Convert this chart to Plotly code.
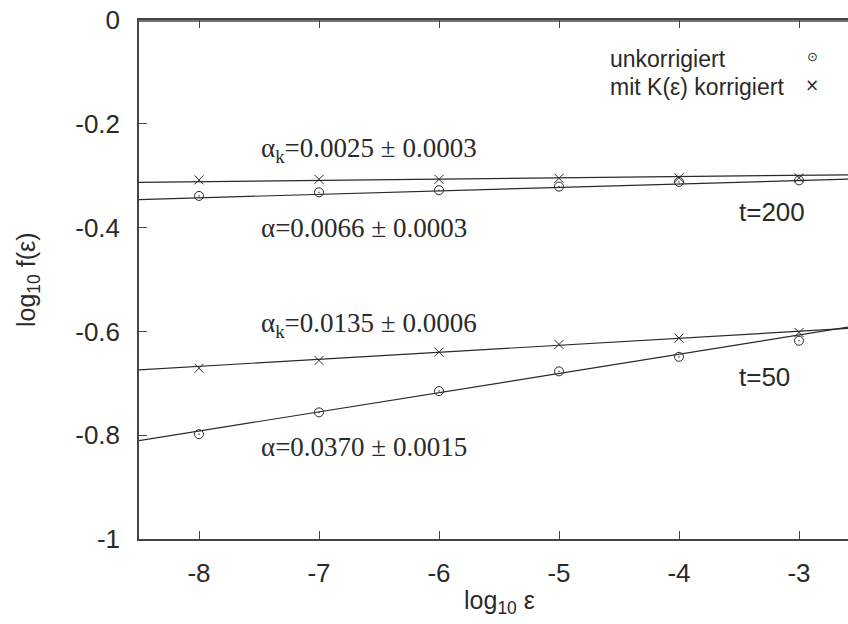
import plotly.graph_objects as go

# ---- data ----
log_eps = [-8, -7, -6, -5, -4, -3]
t200_unkorrigiert = [-0.339, -0.332, -0.328, -0.321, -0.312, -0.309]
t200_korrigiert = [-0.308, -0.307, -0.307, -0.305, -0.304, -0.304]
t50_unkorrigiert = [-0.798, -0.756, -0.715, -0.677, -0.649, -0.618]
t50_korrigiert = [-0.671, -0.656, -0.640, -0.625, -0.613, -0.602]

fit_x = [-8.5, -2.5]
fit_t200_unk = [-0.346, -0.306]
fit_t200_kor = [-0.313, -0.298]
fit_t50_unk = [-0.8105, -0.5885]
fit_t50_kor = [-0.674, -0.593]

x_ticks = [-8, -7, -6, -5, -4, -3]
x_ticktext = ["-8", "-7", "-6", "-5", "-4", "-3"]
y_ticks = [-1, -0.8, -0.6, -0.4, -0.2, 0]
y_ticktext = ["-1", "-0.8", "-0.6", "-0.4", "-0.2", "0"]

ink = "#2a2a2a"
axis_col = "#444"
sans = "Liberation Sans, Arial, sans-serif"
serif = "Liberation Serif, Times New Roman, serif"

FW, FH = 848, 624
L, T, W, H = 139, 20, 709, 519


def px(xs):
    return (xs - L) / W


def py(ys):
    return (T + H - ys) / H


fig = go.Figure()

for fy in [fit_t200_kor, fit_t200_unk, fit_t50_kor, fit_t50_unk]:
    fig.add_trace(go.Scatter(x=fit_x, y=fy, mode="lines",
                             line=dict(color=ink, width=1.2), showlegend=False,
                             hoverinfo="skip"))

for ys in [t200_unkorrigiert, t50_unkorrigiert]:
    fig.add_trace(go.Scatter(x=log_eps, y=ys, mode="markers",
                             marker=dict(symbol="circle-open-dot", size=9, color=ink,
                                         line=dict(width=1, color=ink)),
                             showlegend=False))
for ys in [t200_korrigiert, t50_korrigiert]:
    fig.add_trace(go.Scatter(x=log_eps, y=ys, mode="markers",
                             marker=dict(symbol="x-thin", size=9, color=ink,
                                         line=dict(width=1, color=ink)),
                             showlegend=False))

annotations = [
    dict(x=-7.5, y=-0.25, text="α<sub>k</sub>=0.0025 ± 0.0003"),
    dict(x=-7.5, y=-0.401, text="α=0.0066 ± 0.0003"),
    dict(x=-7.5, y=-0.588, text="α<sub>k</sub>=0.0135 ± 0.0006"),
    dict(x=-7.5, y=-0.823, text="α=0.0370 ± 0.0015"),
]
for a in annotations:
    fig.add_annotation(x=a["x"], y=a["y"], text=a["text"], showarrow=False,
                       xanchor="left", yanchor="middle",
                       font=dict(family=serif, size=27, color=ink))

fig.add_annotation(x=-3.225, y=-0.370, text="t=200", showarrow=False,
                   xanchor="center", yanchor="middle",
                   font=dict(family=sans, size=26, color=ink))
fig.add_annotation(x=-3.29, y=-0.688, text="t=50", showarrow=False,
                   xanchor="center", yanchor="middle",
                   font=dict(family=sans, size=26, color=ink))

# legend (gnuplot style: text, then symbol on the right)
fig.add_annotation(xref="paper", yref="paper", x=px(608), y=py(59),
                   text="unkorrigiert", showarrow=False, xanchor="left", yanchor="middle",
                   font=dict(family=sans, size=23, color=ink))
fig.add_annotation(xref="paper", yref="paper", x=px(608), y=py(87),
                   text="mit K(ε) korrigiert", showarrow=False, xanchor="left", yanchor="middle",
                   font=dict(family=sans, size=23, color=ink))
fig.add_annotation(xref="paper", yref="paper", x=px(812), y=py(57),
                   text="⊙", showarrow=False, xanchor="center", yanchor="middle",
                   font=dict(family="DejaVu Sans", size=13, color=ink))
fig.add_annotation(xref="paper", yref="paper", x=px(812), y=py(85),
                   text="×", showarrow=False, xanchor="center", yanchor="middle",
                   font=dict(family="DejaVu Sans", size=17, color=ink))

# axis titles
fig.add_annotation(xref="paper", yref="paper", x=px(499), y=py(602),
                   text="log<sub>10</sub> ε", showarrow=False, xanchor="center", yanchor="middle",
                   font=dict(family=sans, size=25, color=ink))
fig.add_annotation(xref="paper", yref="paper", x=px(28), y=py(280),
                   text="log<sub>10</sub> f(ε)", showarrow=False, textangle=-90,
                   xanchor="center", yanchor="middle",
                   font=dict(family=sans, size=25, color=ink))

# top border line (drawn explicitly, slightly inside the frame)
fig.add_shape(type="line", xref="paper", yref="paper", x0=0, x1=1,
              y0=1 - 1 / H, y1=1 - 1 / H, layer="above",
              line=dict(color=axis_col, width=1.5))

fig.update_layout(
    width=FW, height=FH,
    margin=dict(l=L, r=FW - L - W, t=T, b=FH - T - H, autoexpand=False),
    paper_bgcolor="white", plot_bgcolor="white",
    showlegend=False,
    xaxis=dict(range=[-8.5, -8.5 + W / 120], tickvals=x_ticks, ticktext=x_ticktext,
               ticks="inside", ticklen=8, tickcolor=axis_col, tickwidth=1,
               showline=True, linecolor=axis_col, linewidth=1.5, mirror="ticks",
               showgrid=False, zeroline=False, automargin=False,
               ticklabeloverflow="allow",
               tickfont=dict(family=sans, size=26, color=ink), ticklabelstandoff=10),
    yaxis=dict(range=[-1, 0], tickvals=y_ticks, ticktext=y_ticktext,
               ticks="inside", ticklen=8, tickcolor=axis_col, tickwidth=1,
               showline=True, linecolor=axis_col, linewidth=1.5, mirror=False,
               showgrid=False, zeroline=False, automargin=False,
               ticklabeloverflow="allow",
               tickfont=dict(family=sans, size=26, color=ink), ticklabelstandoff=12),
)

fig.write_html("out.html", config={"displayModeBar": False},
               post_script="document.body.style.margin='0';document.body.style.overflow='hidden';")
